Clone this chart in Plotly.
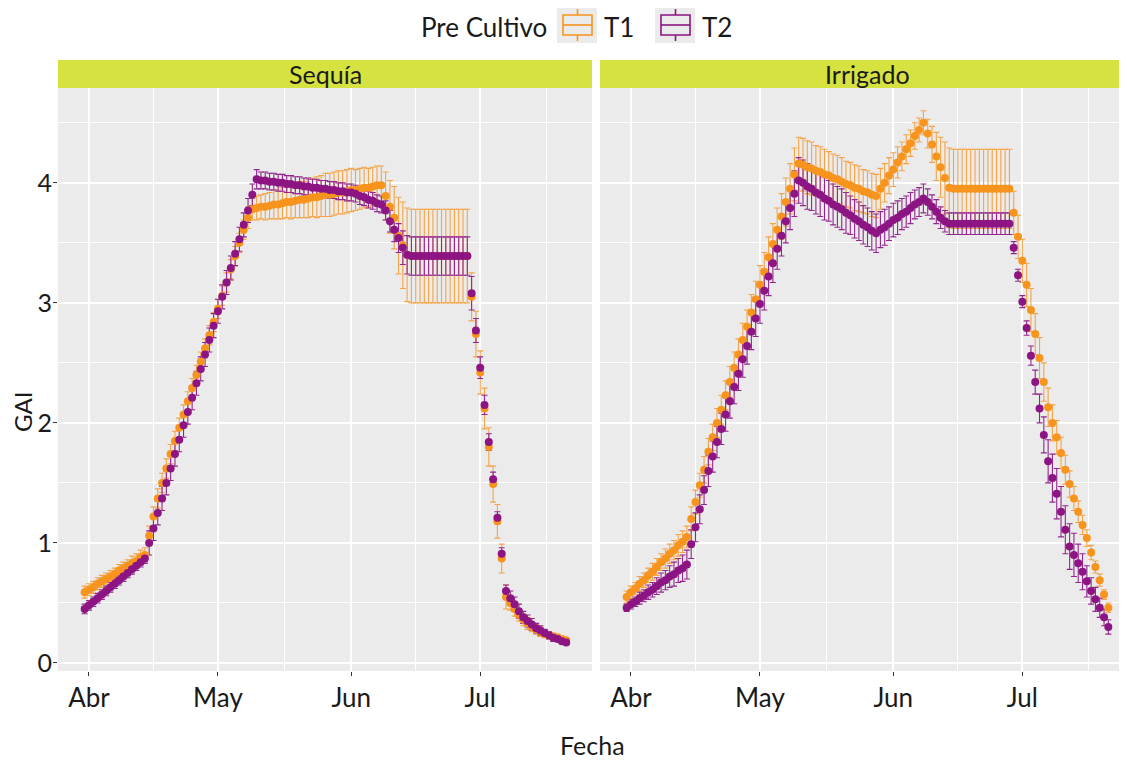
import plotly.graph_objects as go
import pandas as pd

# ---------------- data ----------------
start_date = "2022-03-31"
end_date = "2022-07-21"
fechas = pd.date_range(start_date, end_date, freq="D")

tick_dates = ["2022-04-01", "2022-05-01", "2022-06-01", "2022-07-01"]
tick_labels = ["Abr", "May", "Jun", "Jul"]
minor_dates = ["2022-04-16", "2022-05-16 12:00", "2022-06-16", "2022-07-16 12:00"]
y_ticks = [0, 1, 2, 3, 4]
panels = ["Sequía", "Irrigado"]
groups = ["T1", "T2"]

sequia_t1 = [0.59, 0.61, 0.63, 0.66, 0.68, 0.70, 0.72, 0.74, 0.77, 0.79, 0.81, 0.83, 0.85, 0.88, 0.90,
             1.06, 1.22, 1.37, 1.50, 1.62, 1.74, 1.85, 1.96, 2.07, 2.18, 2.29, 2.40, 2.51, 2.62, 2.73,
             2.84, 2.95, 3.06, 3.17, 3.28, 3.39, 3.50, 3.61, 3.71, 3.78,
             3.79, 3.80, 3.80, 3.81, 3.82, 3.82, 3.83, 3.84, 3.84, 3.85, 3.86, 3.86, 3.87, 3.88, 3.88,
             3.89, 3.90, 3.90, 3.91, 3.92, 3.92, 3.93, 3.94, 3.94, 3.95, 3.96, 3.96, 3.97, 3.98, 3.98,
             3.89, 3.80, 3.71, 3.56, 3.48,
             3.40, 3.39, 3.39, 3.39, 3.39, 3.39, 3.39, 3.39, 3.39, 3.39, 3.39, 3.39, 3.39, 3.39, 3.39,
             3.05, 2.74, 2.42, 2.12, 1.80, 1.49, 1.18, 0.87, 0.55,
             0.50, 0.45, 0.40, 0.36, 0.33, 0.30, 0.28, 0.26, 0.24, 0.23, 0.22, 0.21, 0.20, 0.19]
sequia_t1_se = [0.05, 0.05, 0.05, 0.05, 0.05, 0.05, 0.05, 0.05, 0.05, 0.05, 0.05, 0.06, 0.06, 0.06, 0.06,
                0.08, 0.08, 0.08, 0.08, 0.08, 0.08, 0.08, 0.08, 0.08, 0.08, 0.08, 0.08, 0.08, 0.08, 0.08,
                0.08, 0.08, 0.08, 0.08, 0.08, 0.08, 0.08, 0.08, 0.09, 0.09,
                0.10, 0.10, 0.11, 0.11, 0.12, 0.12, 0.13, 0.13, 0.14, 0.14, 0.15, 0.15, 0.16, 0.16, 0.17,
                0.17, 0.18, 0.18, 0.18, 0.18, 0.18, 0.18, 0.18, 0.17, 0.17, 0.17, 0.16, 0.16, 0.16, 0.16,
                0.20, 0.22, 0.26, 0.32, 0.36,
                0.39, 0.39, 0.39, 0.39, 0.39, 0.39, 0.39, 0.39, 0.39, 0.39, 0.39, 0.39, 0.39, 0.39, 0.39,
                0.20, 0.19, 0.18, 0.17, 0.16, 0.15, 0.14, 0.12, 0.10,
                0.06, 0.06, 0.05, 0.05, 0.05, 0.04, 0.04, 0.04, 0.03, 0.03, 0.03, 0.03, 0.02, 0.02]

sequia_t2 = [0.45, 0.48, 0.51, 0.54, 0.57, 0.60, 0.63, 0.66, 0.69, 0.72, 0.75, 0.78, 0.81, 0.84, 0.87,
             1.00, 1.12, 1.25, 1.37, 1.50, 1.62, 1.74, 1.86, 1.98, 2.09, 2.21, 2.33, 2.45, 2.57, 2.69,
             2.81, 2.93, 3.05, 3.17, 3.29, 3.41, 3.53, 3.65, 3.77, 3.90, 4.03,
             4.02, 4.02, 4.01, 4.01, 4.00, 4.00, 3.99, 3.99, 3.98, 3.98, 3.97, 3.97, 3.96, 3.96, 3.95,
             3.95, 3.94, 3.94, 3.93, 3.93, 3.92, 3.92,
             3.91, 3.89, 3.88, 3.86, 3.85, 3.83, 3.82,
             3.77, 3.68, 3.61, 3.54, 3.46,
             3.40, 3.39, 3.39, 3.39, 3.39, 3.39, 3.39, 3.39, 3.39, 3.39, 3.39, 3.39, 3.39, 3.39, 3.39,
             3.08, 2.77, 2.46, 2.15, 1.84, 1.53, 1.21, 0.91, 0.60,
             0.54, 0.49, 0.43, 0.38, 0.35, 0.32, 0.29, 0.27, 0.25, 0.23, 0.21, 0.20, 0.18, 0.17]
sequia_t2_se = [0.04, 0.04, 0.04, 0.04, 0.04, 0.04, 0.04, 0.04, 0.04, 0.04, 0.04, 0.04, 0.04, 0.04, 0.04,
                0.10, 0.10, 0.10, 0.10, 0.10, 0.10, 0.10, 0.10, 0.10, 0.10, 0.10, 0.10, 0.10, 0.10, 0.10,
                0.10, 0.10, 0.10, 0.10, 0.10, 0.10, 0.10, 0.10, 0.10, 0.09, 0.08,
                0.07, 0.07, 0.07, 0.07, 0.07, 0.07, 0.07, 0.07, 0.07, 0.07, 0.07, 0.07, 0.07, 0.07, 0.07,
                0.07, 0.07, 0.07, 0.07, 0.07, 0.07, 0.07,
                0.07, 0.07, 0.07, 0.07, 0.07, 0.07, 0.07,
                0.08, 0.09, 0.10, 0.12, 0.14,
                0.16, 0.16, 0.16, 0.16, 0.16, 0.16, 0.16, 0.16, 0.16, 0.16, 0.16, 0.16, 0.16, 0.16, 0.16,
                0.14, 0.10, 0.09, 0.08, 0.07, 0.06, 0.05, 0.05, 0.05,
                0.06, 0.06, 0.06, 0.05, 0.05, 0.05, 0.04, 0.04, 0.03, 0.03, 0.03, 0.02, 0.02, 0.02]

irrigado_t1 = [0.55, 0.59, 0.62, 0.66, 0.69, 0.73, 0.76, 0.80, 0.84, 0.87, 0.91, 0.94, 0.98, 1.01, 1.05,
               1.20, 1.34, 1.48, 1.61, 1.76, 1.88, 2.00, 2.11, 2.23, 2.34, 2.46, 2.57, 2.69, 2.80, 2.92,
               3.03, 3.15, 3.26, 3.38, 3.49, 3.61, 3.72, 3.84, 3.95, 4.07, 4.16,
               4.15, 4.13, 4.12, 4.10, 4.09, 4.07, 4.06, 4.04, 4.03, 4.01, 3.99, 3.98, 3.96, 3.95, 3.93,
               3.92, 3.90, 3.89,
               3.95, 4.00, 4.06, 4.11, 4.17, 4.22, 4.28, 4.33, 4.39, 4.44, 4.50,
               4.41, 4.32, 4.22, 4.13, 4.04,
               3.96, 3.95, 3.95, 3.95, 3.95, 3.95, 3.95, 3.95, 3.95, 3.95, 3.95, 3.95, 3.95, 3.95, 3.95,
               3.75, 3.55, 3.35, 3.15, 2.94, 2.74, 2.54, 2.34, 2.13, 2.00, 1.88, 1.75, 1.61, 1.49, 1.37,
               1.26, 1.15, 1.04, 0.92, 0.80, 0.69, 0.57, 0.46]
irrigado_t1_se = [0.05, 0.05, 0.05, 0.06, 0.06, 0.06, 0.07, 0.07, 0.07, 0.08, 0.08, 0.08, 0.09, 0.09, 0.09,
                  0.10, 0.10, 0.10, 0.11, 0.11, 0.11, 0.12, 0.12, 0.12, 0.13, 0.13, 0.13, 0.14, 0.14, 0.15,
                  0.15, 0.16, 0.16, 0.17, 0.17, 0.18, 0.19, 0.20, 0.21, 0.22, 0.22,
                  0.22, 0.22, 0.22, 0.21, 0.21, 0.21, 0.20, 0.20, 0.20, 0.20, 0.19, 0.19, 0.19, 0.19, 0.18,
                  0.18, 0.18, 0.18,
                  0.17, 0.16, 0.15, 0.14, 0.13, 0.12, 0.12, 0.11, 0.11, 0.10, 0.10,
                  0.12, 0.15, 0.20, 0.25, 0.30,
                  0.33, 0.33, 0.33, 0.33, 0.33, 0.33, 0.33, 0.33, 0.33, 0.33, 0.33, 0.33, 0.33, 0.33, 0.33,
                  0.18, 0.18, 0.18, 0.18, 0.18, 0.17, 0.17, 0.16, 0.16, 0.15, 0.14, 0.13, 0.12, 0.11, 0.10,
                  0.09, 0.08, 0.07, 0.06, 0.05, 0.05, 0.04, 0.04]

irrigado_t2 = [0.46, 0.49, 0.51, 0.54, 0.56, 0.59, 0.61, 0.64, 0.67, 0.69, 0.72, 0.74, 0.77, 0.79, 0.82,
               0.99, 1.13, 1.28, 1.44, 1.60, 1.72, 1.84, 1.95, 2.07, 2.18, 2.30, 2.41, 2.53, 2.64, 2.76,
               2.87, 2.99, 3.10, 3.22, 3.33, 3.45, 3.56, 3.68, 3.79, 3.91, 4.02,
               4.00, 3.97, 3.95, 3.92, 3.90, 3.87, 3.85, 3.82, 3.80, 3.78, 3.75, 3.73, 3.70, 3.68, 3.65,
               3.63, 3.60, 3.58,
               3.61, 3.63, 3.66, 3.69, 3.71, 3.74, 3.76, 3.79, 3.82, 3.84, 3.87,
               3.84, 3.80, 3.76, 3.71, 3.68,
               3.66, 3.66, 3.66, 3.66, 3.66, 3.66, 3.66, 3.66, 3.66, 3.66, 3.66, 3.66, 3.66, 3.66, 3.66,
               3.46, 3.23, 3.01, 2.79, 2.56, 2.34, 2.12, 1.90, 1.68, 1.54, 1.41, 1.26, 1.11, 0.97, 0.90,
               0.83, 0.76, 0.68, 0.60, 0.53, 0.46, 0.38, 0.30]
irrigado_t2_se = [0.03, 0.04, 0.04, 0.05, 0.05, 0.06, 0.06, 0.07, 0.08, 0.08, 0.09, 0.10, 0.10, 0.11, 0.12,
                  0.12, 0.12, 0.12, 0.12, 0.13, 0.13, 0.13, 0.13, 0.14, 0.14, 0.14, 0.14, 0.15, 0.15, 0.15,
                  0.15, 0.16, 0.16, 0.16, 0.16, 0.17, 0.17, 0.18, 0.18, 0.19, 0.19,
                  0.19, 0.19, 0.18, 0.18, 0.18, 0.18, 0.17, 0.17, 0.17, 0.17, 0.17, 0.16, 0.16, 0.16, 0.16,
                  0.16, 0.16, 0.16,
                  0.15, 0.15, 0.14, 0.14, 0.14, 0.13, 0.13, 0.13, 0.12, 0.12, 0.12,
                  0.11, 0.10, 0.10, 0.09, 0.09,
                  0.09, 0.09, 0.09, 0.09, 0.09, 0.09, 0.09, 0.09, 0.09, 0.09, 0.09, 0.09, 0.09, 0.09, 0.09,
                  0.05, 0.05, 0.05, 0.06, 0.08, 0.10, 0.12, 0.15, 0.18, 0.20, 0.21, 0.21, 0.20, 0.19, 0.18,
                  0.16, 0.15, 0.13, 0.11, 0.10, 0.08, 0.07, 0.06]

# ---------------- style ----------------
FONT = "Lato, 'Open Sans', sans-serif"
COL_PT = {"T1": "#F7941D", "T2": "#8C1483"}
COL_ERR = {"T1": "#F4A447", "T2": "#93278F"}
STRIP = "#D6E240"
PANEL_BG = "#EBEBEB"
TXT = "#1a1a1a"

# The page body adds an 8px offset; the figure is laid out so that the
# screenshot coordinates (S) map to figure coordinates F = S - OFF.
OFF = 8
W, H = 1127, 760
ML, MR, MT, MB = 50, 0, 80, 97
PW = W - ML - MR
PH = H - MT - MB


def px_x(sx):
    return (sx - OFF - ML) / PW


def px_y(sy):
    return (H - MB - (sy - OFF)) / PH


dom_left = [0.0, px_x(592)]
dom_right = [px_x(600), 1.0]
range_left = ["2022-03-24 19:12", "2022-07-27 00:00"]
range_right = ["2022-03-24 19:12", "2022-07-27 04:48"]
y_range = [-0.067, 4.79]

series = {
    ("Sequía", "T1"): (sequia_t1, sequia_t1_se),
    ("Sequía", "T2"): (sequia_t2, sequia_t2_se),
    ("Irrigado", "T1"): (irrigado_t1, irrigado_t1_se),
    ("Irrigado", "T2"): (irrigado_t2, irrigado_t2_se),
}

fig = go.Figure()
axes = {"Sequía": ("x", "y"), "Irrigado": ("x2", "y2")}

for panel in panels:
    xa, ya = axes[panel]
    # error bars first (all groups), then points
    for g in groups:
        vals, se = series[(panel, g)]
        fig.add_trace(go.Scatter(
            x=fechas, y=vals, mode="markers", xaxis=xa, yaxis=ya,
            marker=dict(size=1, color="rgba(0,0,0,0)"),
            error_y=dict(type="data", array=se, visible=True, color=COL_ERR[g],
                         thickness=1.1, width=3),
            showlegend=False, hoverinfo="skip"))
    for g in groups:
        vals, se = series[(panel, g)]
        fig.add_trace(go.Scatter(
            x=fechas, y=vals, mode="markers", xaxis=xa, yaxis=ya, name=g,
            marker=dict(size=8, color=COL_PT[g], line=dict(width=0)),
            showlegend=False))

xaxis_common = dict(
    type="date", tickmode="array", tickvals=tick_dates, ticktext=tick_labels,
    showgrid=True, gridcolor="white", gridwidth=2,
    minor=dict(tickmode="array", tickvals=minor_dates, showgrid=True,
               gridcolor="white", gridwidth=1, ticks=""),
    ticks="outside", ticklen=4, tickwidth=1, tickcolor="#333333",
    tickfont=dict(family=FONT, size=26, color=TXT),
    showline=False, zeroline=False, fixedrange=True,
)
yaxis_common = dict(
    range=y_range, tickmode="array", tickvals=y_ticks,
    showgrid=True, gridcolor="white", gridwidth=2,
    minor=dict(tickmode="array", tickvals=[0.5, 1.5, 2.5, 3.5, 4.5], showgrid=True,
               gridcolor="white", gridwidth=1, ticks=""),
    zeroline=False, showline=False, fixedrange=True,
)

fig.update_layout(
    width=W, height=H,
    margin=dict(l=ML, r=MR, t=MT, b=MB, pad=0, autoexpand=False),
    paper_bgcolor="white", plot_bgcolor=PANEL_BG,
    font=dict(family=FONT, color=TXT),
    showlegend=False,
    xaxis=dict(domain=dom_left, range=range_left, anchor="y", **xaxis_common),
    xaxis2=dict(domain=dom_right, range=range_right, anchor="y2", **xaxis_common),
    yaxis=dict(domain=[0, 1], anchor="x", ticks="outside", ticklen=4, tickwidth=1,
               tickcolor="#333333", tickfont=dict(family=FONT, size=25, color=TXT),
               ticklabelstandoff=-4,
               **yaxis_common),
    yaxis2=dict(domain=[0, 1], anchor="x2", matches="y", showticklabels=False, ticks="",
                **yaxis_common),
)

shapes = []
annotations = []

# strips
strip_y0, strip_y1 = 1.0, px_y(60)
for panel, dom in zip(panels, [dom_left, dom_right]):
    shapes.append(dict(type="rect", xref="paper", yref="paper", x0=dom[0], x1=dom[1],
                       y0=strip_y0, y1=strip_y1, fillcolor=STRIP, line=dict(width=0), layer="below"))
    annotations.append(dict(text=panel, xref="paper", yref="paper", x=(dom[0] + dom[1]) / 2,
                            y=(strip_y0 + strip_y1) / 2, showarrow=False,
                            font=dict(family=FONT, size=25, color=TXT),
                            xanchor="center", yanchor="middle"))

# axis titles
annotations.append(dict(text="Fecha", xref="paper", yref="paper", x=px_x(592), y=px_y(745),
                        showarrow=False, font=dict(family=FONT, size=25, color=TXT),
                        xanchor="center", yanchor="middle"))
annotations.append(dict(text="GAI", xref="paper", yref="paper", x=px_x(23), y=px_y(412),
                        showarrow=False, textangle=-90,
                        font=dict(family=FONT, size=24, color=TXT),
                        xanchor="center", yanchor="middle"))

# legend (ggplot-style keys)
annotations.append(dict(text="Pre Cultivo", xref="paper", yref="paper", x=px_x(549), y=px_y(27),
                        showarrow=False, font=dict(family=FONT, size=26, color=TXT),
                        xanchor="right", yanchor="middle"))
key_left = {"T1": 557, "T2": 655}
for g in groups:
    kx = key_left[g]
    shapes.append(dict(type="rect", xref="paper", yref="paper", x0=px_x(kx), x1=px_x(kx + 40),
                       y0=px_y(43), y1=px_y(3), fillcolor="#EBEBEB", line=dict(width=0)))
    shapes.append(dict(type="rect", xref="paper", yref="paper", x0=px_x(kx + 6), x1=px_x(kx + 35),
                       y0=px_y(35), y1=px_y(15), fillcolor="rgba(0,0,0,0)",
                       line=dict(color=COL_PT[g], width=1.6)))
    shapes.append(dict(type="line", xref="paper", yref="paper", x0=px_x(kx + 6), x1=px_x(kx + 35),
                       y0=px_y(25), y1=px_y(25), line=dict(color=COL_PT[g], width=1.6)))
    shapes.append(dict(type="line", xref="paper", yref="paper", x0=px_x(kx + 20.5), x1=px_x(kx + 20.5),
                       y0=px_y(15), y1=px_y(9), line=dict(color=COL_PT[g], width=1.6)))
    shapes.append(dict(type="line", xref="paper", yref="paper", x0=px_x(kx + 20.5), x1=px_x(kx + 20.5),
                       y0=px_y(35), y1=px_y(41), line=dict(color=COL_PT[g], width=1.6)))
    annotations.append(dict(text=g, xref="paper", yref="paper", x=px_x(kx + 45), y=px_y(27),
                            showarrow=False, font=dict(family=FONT, size=26, color=TXT),
                            xanchor="left", yanchor="middle"))

fig.update_layout(shapes=shapes, annotations=annotations)
fig.write_html("out.html")
